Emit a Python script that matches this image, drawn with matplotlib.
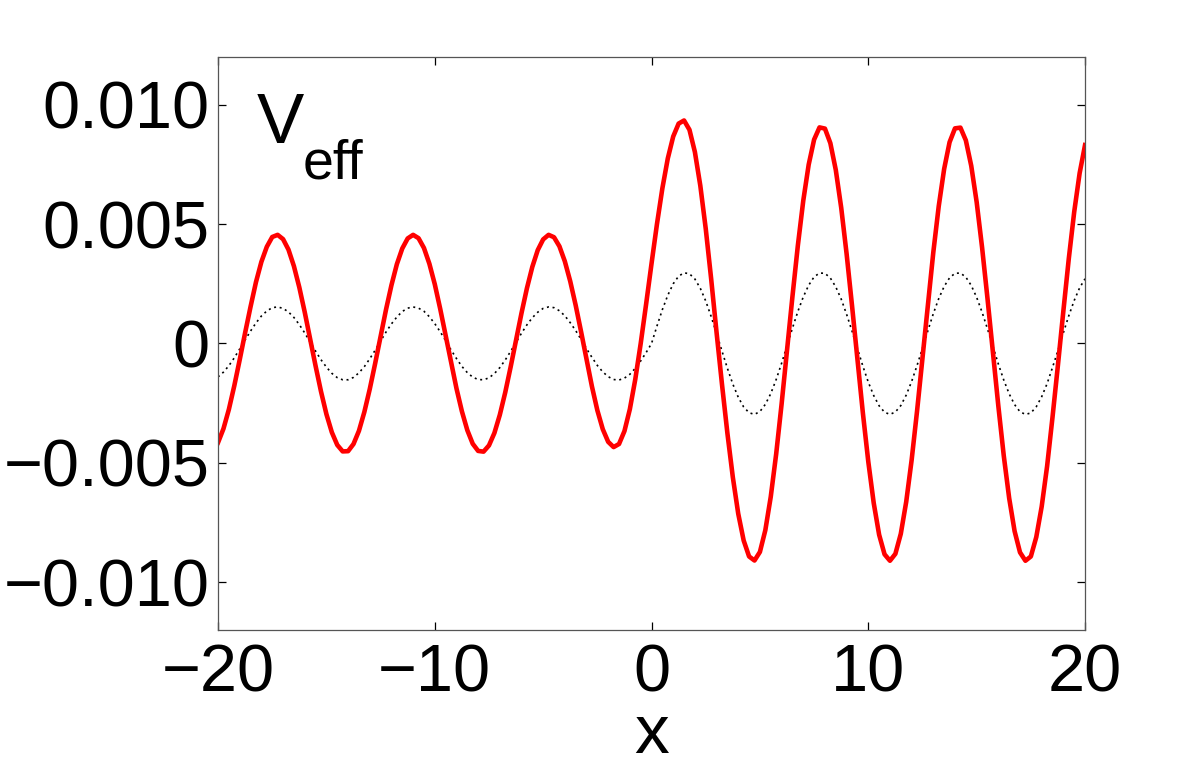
import matplotlib
matplotlib.use('Agg')
import matplotlib.pyplot as plt
import numpy as np

plt.rcParams.update({
    'font.family': ['Liberation Sans', 'DejaVu Sans'],
    'font.size': 48,
    'axes.linewidth': 0.9,
    'axes.edgecolor': '#555555',
})

# x grid of the sampled curves, step 0.25
x = np.arange(-20, 20.001, 0.25)

# V_eff, in units of 1e-3
veff_red = [
    -4.15, -3.57, -2.76, -1.77, -0.68, 0.45, 1.54, 2.57, 3.42, 4.05,
    4.46, 4.55, 4.37, 3.93, 3.24, 2.35, 1.31, 0.19, -0.94, -2.01,
    -2.96, -3.72, -4.25, -4.52, -4.51, -4.21, -3.66, -2.87, -1.91, -0.83,
    0.30, 1.42, 2.44, 3.32, 3.98, 4.40, 4.55, 4.41, 4.00, 3.34,
    2.48, 1.45, 0.34, -0.79, -1.88, -2.84, -3.63, -4.20, -4.50, -4.53,
    -4.27, -3.75, -2.99, -2.05, -0.98, 0.15, 1.27, 2.31, 3.21, 3.91,
    4.36, 4.55, 4.45, 4.07, 3.44, 2.60, 1.60, 0.49,
    # around x = 0 (-3 .. 4.5)
    -0.66, -1.80, -2.80, -3.59, -4.12, -4.34, -4.21, -3.67, -2.75, -1.50,
    0.00, 1.65, 3.35, 5.00, 6.50, 7.75, 8.67, 9.21, 9.34, 8.95,
    8.02, 6.61, 4.81, 2.71, 0.46, -1.71, -3.76, -5.60, -7.13, -8.25,
    -8.92,
    # 4.75 .. 20
    -9.09, -8.73, -7.82, -6.42, -4.63, -2.54, -0.30, 1.96, 4.10, 5.98,
    7.49, 8.54, 9.05, 9.00, 8.39, 7.27, 5.69, 3.75, 1.58, -0.68,
    -2.91, -4.95, -6.68, -8.01, -8.83, -9.10, -8.81, -7.97, -6.63, -4.88,
    -2.83, -0.60, 1.66, 3.82, 5.75, 7.31, 8.43, 9.01, 9.04, 8.51,
    7.44, 5.92, 4.02, 1.88, -0.38, -2.62, -4.70, -6.48, -7.86, -8.75,
    -9.10, -8.92, -8.11, -6.83, -5.14, -3.08, -0.90, 1.36, 3.55, 5.51,
    7.13, 8.31,
]

veff_dot = [
    -1.40, -1.20, -0.93, -0.60, -0.23, 0.15, 0.52, 0.86, 1.15, 1.36,
    1.50, 1.53, 1.47, 1.32, 1.09, 0.79, 0.44, 0.06, -0.32, -0.68,
    -0.99, -1.25, -1.43, -1.52, -1.52, -1.42, -1.23, -0.97, -0.64, -0.28,
    0.10, 0.48, 0.82, 1.11, 1.34, 1.48, 1.53, 1.48, 1.35, 1.12,
    0.83, 0.49, 0.12, -0.27, -0.63, -0.96, -1.22, -1.41, -1.51, -1.52,
    -1.44, -1.26, -1.01, -0.69, -0.33, 0.05, 0.43, 0.78, 1.08, 1.31,
    1.47, 1.53, 1.50, 1.37, 1.16, 0.87, 0.54, 0.17, -0.22, -0.58,
    -0.92, -1.19, -1.39, -1.51, -1.53, -1.45, -1.29, -1.04, -0.73, -0.38,
    0.00,
    0.73, 1.42, 2.02, 2.50, 2.82, 2.96, 2.92, 2.70, 2.31, 1.78,
    1.13, 0.42, -0.32, -1.04, -1.70, -2.25, -2.66, -2.90, -2.97, -2.85,
    -2.55, -2.10, -1.51, -0.83, -0.10, 0.64, 1.34, 1.95, 2.44, 2.79,
    2.95, 2.94, 2.74, 2.37, 1.86, 1.22, 0.52, -0.22, -0.95, -1.62,
    -2.18, -2.61, -2.88, -2.97, -2.87, -2.60, -2.16, -1.59, -0.92, -0.20,
    0.54, 1.25, 1.88, 2.39, 2.75, 2.94, 2.95, 2.78, 2.43, 1.93,
    1.31, 0.61, -0.12, -0.86, -1.53, -2.11, -2.56, -2.86, -2.97, -2.91,
    -2.65, -2.23, -1.68, -1.00, -0.30, 0.45, 1.16, 1.80, 2.33, 2.71,
]

xticks = [-20, -10, 0, 10, 20]
xticklabels = ['\u221220', '\u221210', '0', '10', '20']
yticks = [-0.010, -0.005, 0, 0.005, 0.010]
yticklabels = ['\u22120.010', '\u22120.005', '0', '0.005', '0.010']

fig = plt.figure(figsize=(12, 7.75), dpi=100)
ax = fig.add_axes([0.1817, 0.1871, 0.7225, 0.7394])

ax.plot(x, np.array(veff_dot) * 1e-3, color='black', lw=1.2,
        linestyle=(0, (1.2, 2.2)))
ax.plot(x, np.array(veff_red) * 1e-3, color='#ff0000', lw=3.3,
        solid_joinstyle='round')

ax.set_xlim(-20, 20)
ax.set_ylim(-0.012, 0.012)
ax.set_xticks(xticks)
ax.set_xticklabels(xticklabels)
ax.set_yticks(yticks)
ax.set_yticklabels(yticklabels)
ax.tick_params(direction='in', length=6, width=0.9, color='black',
               top=True, right=True, labelsize=48)
ax.tick_params(axis='x', pad=10)
ax.tick_params(axis='y', pad=6)
ax.set_xlabel('x', fontsize=50, labelpad=-2)

ax.text(-18.22, 0.00839, 'V', fontsize=51, va='baseline', ha='left')
ax.text(-16.11, 0.00692, 'eff', fontsize=40, va='baseline', ha='left')

fig.savefig('out.png', dpi=100)
